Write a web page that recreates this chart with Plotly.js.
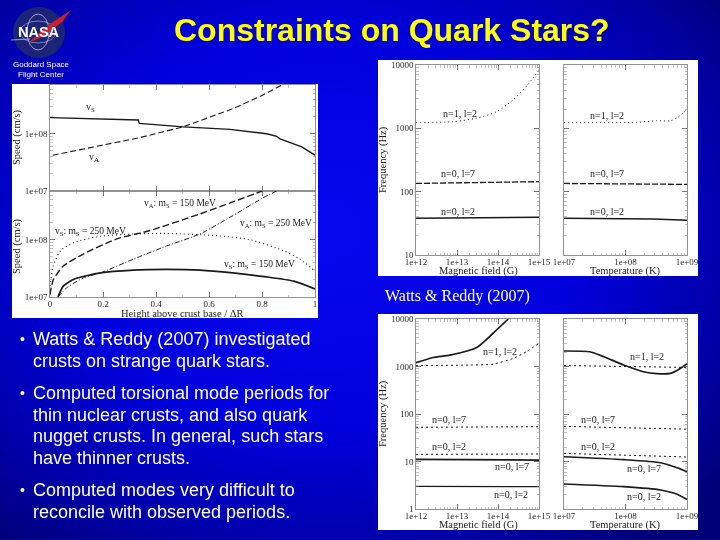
<!DOCTYPE html>
<html><head><meta charset="utf-8">
<script src="https://cdn.plot.ly/plotly-3.0.1.min.js"></script>
<style>
html,body{margin:0;padding:0;width:720px;height:540px;overflow:hidden;background:#00008c}
#g{width:720px;height:540px;background:radial-gradient(ellipse 520px 400px at 320px 230px,#0808f0 0%,#0000dc 50%,#0000a8 80%,#000078 100%)}
#g .main-svg{filter:blur(0.35px)}
</style></head><body><div id="g"></div>
<script>
// Left panels: height / dR vs speed (log10 cm/s)
const vsTopX=[0,0.113,0.333,0.337,0.503,0.68,0.818,0.855,0.868,0.95,1];
const vsTopY=[8.28,8.268,8.24,8.18,8.12,8.075,8.0,7.955,7.91,7.77,7.625];
const vaTopX=[0.01,0.19,0.333,0.503,0.692,0.8,0.855,0.875];
const vaTopY=[7.625,7.795,7.925,8.12,8.44,8.667,8.81,8.85];
const vs150X=[0.03,0.05,0.09,0.19,0.314,0.44,0.566,0.69,0.818,0.92,1];
const vs150Y=[7,7.19,7.31,7.42,7.47,7.482,7.47,7.42,7.35,7.276,7.14];
const va150X=[0,0.0125,0.05,0.126,0.25,0.377,0.566,0.69,0.8];
const va150Y=[7.04,7.3,7.54,7.75,8.01,8.16,8.45,8.66,8.85];
const vs250X=[0,0.0125,0.04,0.09,0.19,0.314,0.44,0.63,0.755,0.88,0.943,1];
const vs250Y=[7.19,7.54,7.81,7.95,8.06,8.1,8.11,8.07,8,7.81,7.66,7.45];
const va250X=[0.03,0.063,0.126,0.19,0.314,0.44,0.566,0.69,0.8,0.855];
const va250Y=[7,7.16,7.335,7.42,7.66,7.89,8.1,8.42,8.72,8.85];
// Upper right panels: log10 frequency
const bA=[12,12.9,13.48,13.96,14.37,14.69,15];
const n1A=[3.09,3.105,3.16,3.26,3.45,3.66,3.92];
const bEnds=[12,15];
const n7A=[2.13,2.158];
const n2A=[1.58,1.595];
const tA=[7,8.18,8.51,8.73,8.86,9];
const n1AT=[3.09,3.095,3.12,3.12,3.18,3.3];
const tEnds=[7,9];
const n7AT=[2.13,2.115];
const t2A=[7,8.45,9];
const n2AT=[1.58,1.57,1.547];
// Lower right panels: log10 frequency
const bS=[12,12.42,12.83,13.48,13.88,14.25];
const n1Solid=[3.08,3.19,3.24,3.4,3.7,4.0];
const bD=[12,13.3,13.88,14.37,14.69,15];
const n1Dot=[3.02,3.03,3.05,3.17,3.31,3.49];
const n7Dot=[1.72,1.733];
const n2Dot=[1.15,1.158];
const n7Solid=[1.045,1.03];
const n2Solid=[0.477,0.47];
const tS=[7,7.42,7.64,7.97,8.29,8.51,8.73,8.89,9];
const n1SolidT=[3.326,3.31,3.21,3.03,2.89,2.85,2.856,2.96,3.06];
const n1DotT=[3.02,2.98];
const n7DotT=[1.74,1.68];
const n2DotT=[1.17,1.095];
const tL=[7,7.97,8.57,8.84,9];
const n7SolidT=[1.1,1.04,0.975,0.87,0.786];
const n2SolidT=[0.526,0.47,0.4,0.31,0.2];
// Tick labels and text
const speedVals=[7,8], speedText=['1e+07','1e+08'];
const freqVals=[1,2,3,4], freqText=['10','100','1000','10000'];
const freqVals2=[0,1,2,3,4], freqText2=['1','10','100','1000','10000'];
const bVals=[12,13,14,15], bText=['1e+12','1e+13','1e+14','1e+15'];
const tVals=[7,8,9], tText=['1e+07','1e+08','1e+09'];
const hVals=[0,0.2,0.4,0.6,0.8,1], hText=['0','0.2','0.4','0.6','0.8','1'];
const hMinor=[0.1,0.3,0.5,0.7,0.9];
const logMinor=[0.301,0.477,0.602,0.699,0.778,0.845,0.903,0.954];
const bullets=[
 {y:339,t:'Watts & Reddy (2007) investigated',b:true},{y:361,t:'crusts on strange quark stars.'},
 {y:393,t:'Computed torsional mode periods for',b:true},{y:415,t:'thin nuclear crusts, and also quark'},
 {y:436,t:'nugget crusts. In general, such stars'},{y:458,t:'have thinner crusts.'},
 {y:490,t:'Computed modes very difficult to',b:true},{y:512,t:'reconcile with observed periods.'}];

const W=720,H=540, px=x=>x/W, py=y=>1-y/H;
const ink='#2a2a2a', serif='"Liberation Serif",serif', sans='"Liberation Sans",sans-serif';
function minorFrom(r0,r1){const o=[];for(let d=Math.floor(r0);d<=r1;d++)for(const m of logMinor){if(d+m<=r1&&d+m>=r0)o.push(d+m);}return o;}
function xAx(l,r,anchor,range,vals,text,minor,showlab){
 return {domain:[px(l),px(r)],anchor:anchor,range:range,tickmode:'array',tickvals:vals,ticktext:text,
  showticklabels:showlab,ticklabelstandoff:-2,ticks:'inside',ticklen:5,tickwidth:0.8,tickcolor:'#555',mirror:'ticks',showline:true,linecolor:'#777',linewidth:0.8,
  minor:{tickmode:'array',tickvals:minor,ticks:'inside',ticklen:2.5,tickwidth:0.5,tickcolor:'#888',showgrid:false},
  showgrid:false,zeroline:false,tickangle:0,tickfont:{family:serif,size:9,color:ink}};
}
function yAx(t,b,anchor,range,vals,text,showlab){
 return {domain:[py(b),py(t)],anchor:anchor,range:range,tickmode:'array',tickvals:vals,ticktext:text,
  showticklabels:showlab,ticks:'inside',ticklen:5,tickwidth:0.8,tickcolor:'#555',mirror:'ticks',showline:true,linecolor:'#777',linewidth:0.8,
  minor:{tickmode:'array',tickvals:minorFrom(range[0],range[1]),ticks:'inside',ticklen:2.5,tickwidth:0.5,tickcolor:'#888',showgrid:false},
  showgrid:false,zeroline:false,tickfont:{family:serif,size:9,color:ink}};
}
function tr(x,y,ax,dash,w,shape){return {x:x,y:y,xaxis:'x'+ax,yaxis:'y'+ax,mode:'lines',type:'scatter',hoverinfo:'skip',
  line:{color:'#1a1a1a',width:w||1.2,dash:dash||'solid',shape:shape||'linear',smoothing:0.6}};}
const data=[
 tr(vsTopX,vsTopY,1,'solid',1.4),tr(vaTopX,vaTopY,1,'6px,3px',1.1),
 tr(vs150X,vs150Y,2,'solid',1.7,'spline'),tr(va150X,va150Y,2,'7px,3px',1.4,'spline'),
 tr(vs250X,vs250Y,2,'1px,3px',1.1,'spline'),tr(va250X,va250Y,2,'5px,2px,1px,2px',1,'spline'),
 tr(bA,n1A,3,'1px,3px',1,'spline'),tr(bEnds,n7A,3,'6px,2px',1.3),tr(bEnds,n2A,3,'solid',1.5),
 tr(tA,n1AT,4,'1px,3px',1,'spline'),tr(tEnds,n7AT,4,'6px,2px',1.3),tr(t2A,n2AT,4,'solid',1.5),
 tr(bS,n1Solid,5,'solid',1.7,'spline'),tr(bD,n1Dot,5,'2px,3px',1,'spline'),tr(bEnds,n7Dot,5,'2px,3px',1),tr(bEnds,n2Dot,5,'2px,3px',1),
 tr(bEnds,n7Solid,5,'solid',1.7),tr(bEnds,n2Solid,5,'solid',1.1),
 tr(tS,n1SolidT,6,'solid',1.7,'spline'),tr(tEnds,n1DotT,6,'2px,3px',1),tr(tEnds,n7DotT,6,'2px,3px',1),tr(tEnds,n2DotT,6,'2px,3px',1),
 tr(tL,n7SolidT,6,'solid',1.6,'spline'),tr(tL,n2SolidT,6,'solid',1.6,'spline')
];
const layout={width:W,height:H,margin:{l:0,r:0,t:0,b:0},paper_bgcolor:'rgba(0,0,0,0)',plot_bgcolor:'#fff',showlegend:false,
 xaxis:xAx(50,315,'y',[0,1],hVals,hText,hMinor,false),
 yaxis:yAx(85,191,'x',[7,8.85],speedVals,speedText,true),
 xaxis2:xAx(50,315,'y2',[0,1],hVals,hText,hMinor,true),
 yaxis2:yAx(191,297,'x2',[7,8.85],speedVals,speedText,true),
 xaxis3:xAx(416,539,'y3',[12,15],bVals,bText,minorFrom(12,15),true),
 yaxis3:yAx(65,255,'x3',[1,4],freqVals,freqText,true),
 xaxis4:xAx(564,687,'y4',[7,9],tVals,tText,minorFrom(7,9),true),
 yaxis4:yAx(65,255,'x4',[1,4],freqVals,freqText,false),
 xaxis5:xAx(416,539,'y5',[12,15],bVals,bText,minorFrom(12,15),true),
 yaxis5:yAx(319,509,'x5',[0,4],freqVals2,freqText2,true),
 xaxis6:xAx(564,687,'y6',[7,9],tVals,tText,minorFrom(7,9),true),
 yaxis6:yAx(319,509,'x6',[0,4],freqVals2,freqText2,false),
 shapes:[],annotations:[]};
// white panels behind the plots
const pan=(x0,y0,x1,y1)=>({type:'rect',xref:'paper',yref:'paper',x0:px(x0),x1:px(x1),y0:py(y1),y1:py(y0),fillcolor:'#fff',line:{width:0},layer:'below'});
layout.shapes.push(pan(12,84,318,318),pan(378,60,698,276),pan(378,314,698,530));
// NASA logo
const pshape=(type,x0,y0,x1,y1,fill,line,lw)=>({type:type,xref:'paper',yref:'paper',x0:px(x0),x1:px(x1),y0:py(y1),y1:py(y0),fillcolor:fill,line:{color:line,width:lw||0}});
layout.shapes.push(pshape('circle',13,7,65,58,'#1c2478','rgba(0,0,0,0)',0));
layout.shapes.push(pshape('circle',27,14,49,50,'rgba(0,0,0,0)','#d8d8f0',0.7));
layout.shapes.push(pshape('circle',20,21,56,43,'rgba(0,0,0,0)','#b8b8e0',0.6));
const sw=[[71,10],[63,21],[52,30],[40,38],[28,43],[38,34],[50,24]];
layout.shapes.push({type:'path',xref:'paper',yref:'paper',fillcolor:'#c8202c',line:{width:0},
 path:'M '+sw.map(p=>px(p[0])+' '+py(p[1])).join(' L ')+' Z'});
layout.shapes.push({type:'line',xref:'paper',yref:'paper',x0:px(11),x1:px(30),y0:py(40),y1:py(39),line:{color:'#d0d0e8',width:0.7}});
const ann=(x,y,text,size,color,fam,opts)=>Object.assign({xref:'paper',yref:'paper',x:px(x),y:py(y),text:text,showarrow:false,xanchor:'left',yanchor:'middle',
  font:{family:fam,size:size,color:color},borderpad:0,borderwidth:0},opts||{});
const A=layout.annotations;
A.push(ann(39,32,'<b>NASA</b>',14.5,'#fff',sans,{xanchor:'center'}));
A.push(ann(41,65,'Goddard Space',8,'#fff',sans,{xanchor:'center'}));
A.push(ann(41,74,'Flight Center',8,'#fff',sans,{xanchor:'center'}));
A.push(ann(392,30,'<b>Constraints on Quark Stars?</b>',32,'#ffff00',sans,{xanchor:'center'}));
A.push(ann(385,295.5,'Watts & Reddy (2007)',16,'#fff',serif));
bullets.forEach(b=>{
 if(b.b)A.push(ann(20,b.y,'•',14,'#fff',sans));
 A.push(ann(33,b.y,b.t,18,'#fff',sans));
});
const lab=(x,y,t,size)=>A.push(ann(x,y,t,size||10,'#222',serif,{xanchor:'center'}));
// axis titles
const ytitle=(x,y,t)=>A.push(ann(x,y,t,10.5,'#222',serif,{xanchor:'center',textangle:-90}));
ytitle(17,137,'Speed (cm/s)');ytitle(17,246,'Speed (cm/s)');
ytitle(383,160,'Frequency (Hz)');ytitle(383,414,'Frequency (Hz)');
lab(182,313,'Height above crust base / ΔR',10.5);
lab(478,271,'Magnetic field (G)',10.5);lab(625,271,'Temperature (K)',10.5);
lab(478,525,'Magnetic field (G)',10.5);lab(625,525,'Temperature (K)',10.5);
// curve labels
lab(90,108,'v<sub>S</sub>');lab(94,158,'v<sub>A</sub>');
lab(180,203,'v<sub>A</sub>: m<sub>S</sub> = 150 MeV',9.5);
lab(276,224,'v<sub>A</sub>: m<sub>S</sub> = 250 MeV',9.5);
lab(90,232,'v<sub>S</sub>: m<sub>S</sub> = 250 MeV',9.5);
lab(259,264,'v<sub>S</sub>: m<sub>S</sub> = 150 MeV',9.5);
const names=[[460,113,'n=1, l=2'],[458,173,'n=0, l=7'],[458,211,'n=0, l=2'],[607,116,'n=1, l=2'],[607,173,'n=0, l=7'],[607,211,'n=0, l=2'],
 [500,351,'n=1, l=2'],[449,419,'n=0, l=7'],[449,447,'n=0, l=2'],[512,466,'n=0, l=7'],[511,494,'n=0, l=2'],
 [647,356,'n=1, l=2'],[598,419,'n=0, l=7'],[598,447,'n=0, l=2'],[644,468,'n=0, l=7'],[644,496,'n=0, l=2']];
names.forEach(n=>lab(n[0],n[1],n[2],10));
Plotly.newPlot('g',data,layout,{staticPlot:true,displayModeBar:false});
</script></body></html>
